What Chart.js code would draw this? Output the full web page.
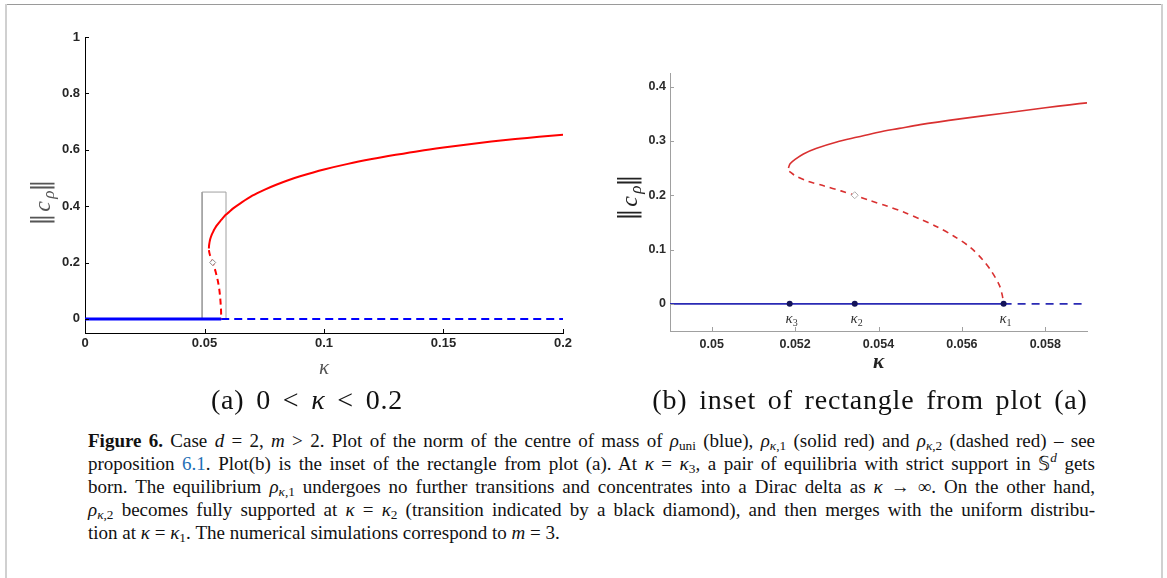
<!DOCTYPE html>
<html>
<head>
<meta charset="utf-8">
<script src="https://cdn.jsdelivr.net/npm/chart.js@4.4.0/dist/chart.umd.min.js"></script>
<style>
  html, body { margin: 0; padding: 0; background: #fff; }
  body { width: 1167px; height: 578px; position: relative; overflow: hidden; }
  .frame { position: absolute; }
  #fTop { left: 5px; top: 4px; width: 1158px; height: 1px; background: #9a9a9a; }
  #fLeft { left: 5px; top: 4px; width: 2px; height: 574px; background: #d0d0d0; }
  #fRight { left: 1161px; top: 4px; width: 2px; height: 574px; background: #d0d0d0; }
  canvas { position: absolute; }
  #plotA { left: 0; top: 0; }
  #plotB { left: 600px; top: 40px; }
  .subcap { position: absolute; font-family: "Liberation Serif", serif; font-size: 28px;
            letter-spacing: 0.8px; word-spacing: 4px;
            line-height: 30px; text-align: center; color: #111; }
  #capA { left: 107px; top: 385px; width: 400px; }
  #capB { left: 620px; top: 385px; width: 500px; }
  #caption { position: absolute; left: 88px; top: 429px; width: 1007px;
             font-family: "Liberation Serif", serif; font-size: 19px; line-height: 23px; color: #111; }
  #caption div { text-align: justify; text-align-last: justify; }
  #caption div.last { text-align-last: left; }
  #caption sub, #caption sup { font-size: 0.7em; line-height: 0; }
  #caption sub { vertical-align: -0.25em; }
  #caption sup { vertical-align: 0.6em; }
  .link { color: #1f6fb6; }
</style>
</head>
<body>
<div class="frame" id="fTop"></div>
<div class="frame" id="fLeft"></div>
<div class="frame" id="fRight"></div>
<canvas id="plotA" width="600" height="400"></canvas>
<canvas id="plotB" width="567" height="340"></canvas>
<div class="subcap" id="capA">(a) 0 &lt; <i>κ</i> &lt; 0.2</div>
<div class="subcap" id="capB">(b) inset of rectangle from plot (a)</div>
<div id="caption">
  <div><b>Figure 6.</b> Case <i>d</i> = 2, <i>m</i> &gt; 2. Plot of the norm of the centre of mass of <i>ρ</i><sub>uni</sub> (blue), <i>ρ</i><sub><i>κ</i>,1</sub> (solid red) and <i>ρ</i><sub><i>κ</i>,2</sub> (dashed red) – see</div>
  <div>proposition <span class="link">6.1</span>. Plot(b) is the inset of the rectangle from plot (a). At <i>κ</i> = <i>κ</i><sub>3</sub>, a pair of equilibria with strict support in 𝕊<sup><i>d</i></sup> gets</div>
  <div>born. The equilibrium <i>ρ</i><sub><i>κ</i>,1</sub> undergoes no further transitions and concentrates into a Dirac delta as <i>κ</i> → ∞. On the other hand,</div>
  <div><i>ρ</i><sub><i>κ</i>,2</sub> becomes fully supported at <i>κ</i> = <i>κ</i><sub>2</sub> (transition indicated by a black diamond), and then merges with the uniform distribu-</div>
  <div class="last">tion at <i>κ</i> = <i>κ</i><sub>1</sub>. The numerical simulations correspond to <i>m</i> = 3.</div>
</div>
<script>
// tick positions
const kappaTicksA = [0, 0.05, 0.1, 0.15, 0.2];
const normTicksA = [0, 0.2, 0.4, 0.6, 0.8, 1];
const kappaTicksB = [0.05, 0.052, 0.054, 0.056, 0.058];
const normTicksB = [0, 0.1, 0.2, 0.3, 0.4];

// rho_{kappa,1}: solid branch, from the fold at kappa_3 outwards
const branch1K = [0.05184, 0.05188, 0.0520, 0.0522, 0.0525, 0.0530, 0.0535, 0.0540, 0.0545, 0.0550,
                  0.0560, 0.0570, 0.0580, 0.0590, 0.060, 0.062, 0.065, 0.070, 0.075, 0.080,
                  0.085, 0.090, 0.100, 0.110, 0.120, 0.130, 0.140, 0.150, 0.160, 0.170,
                  0.180, 0.190, 0.200];
const branch1C = [0.250, 0.258, 0.266, 0.276, 0.286, 0.298, 0.307, 0.316, 0.323, 0.330,
                  0.341, 0.351, 0.361, 0.370, 0.377, 0.392, 0.410, 0.437, 0.458, 0.476,
                  0.492, 0.506, 0.530, 0.550, 0.567, 0.582, 0.596, 0.608, 0.619, 0.629,
                  0.638, 0.646, 0.653];

// rho_{kappa,2}: dashed branch, from the fold down to kappa_1
const branch2K = [0.05186, 0.0520, 0.0523, 0.0527, 0.0531, 0.05343, 0.0538, 0.0542, 0.0546, 0.0550,
                  0.0554, 0.0558, 0.0562, 0.0565, 0.0567, 0.0569, 0.05697, 0.0570];
const branch2C = [0.244, 0.236, 0.226, 0.217, 0.208, 0.200, 0.190, 0.180, 0.169, 0.156,
                  0.142, 0.125, 0.104, 0.081, 0.061, 0.034, 0.015, 0.0];

// uniform state, stable up to kappa_1
const uniStableK = [0, 0.057];
const uniStableC = [0, 0];
const uniUnstableK = [0.057, 0.2];
const uniUnstableC = [0, 0];

// kappa_3, kappa_2, kappa_1
const transitionK = [0.05187, 0.05343, 0.0570];
const transitionC = [0, 0, 0];
const transitionNames = ['3', '2', '1'];

// full support transition (diamond)
const diamondK = [0.05343];
const diamondC = [0.2];

// window shown in plot (b)
const boxK = [0.049, 0.059, 0.059, 0.049, 0.049];
const boxC = [0, 0, 0.45, 0.45, 0];

function pts(xs, ys) {
	return xs.map((x, i) => ({ x: x, y: ys[i] }));
}

function curve(xs, ys, color, width, dash, tension) {
	return {
		data: pts(xs, ys),
		showLine: true,
		borderColor: color,
		borderWidth: width,
		borderDash: dash || [],
		pointRadius: 0,
		pointHoverRadius: 0,
		tension: tension || 0,
		fill: false
	};
}

function drawNorm(ctx, cx, cy, color, size) {
	// ||c_rho|| written sideways, centred on (cx, cy)
	ctx.save();
	ctx.translate(cx, cy);
	ctx.rotate(-Math.PI / 2);
	ctx.fillStyle = color;
	ctx.textBaseline = 'middle';
	const bar = size + 'px "DejaVu Serif", serif';
	const it = 'italic ' + size + 'px "Liberation Serif", serif';
	const sub = 'italic ' + Math.round(size * 0.7) + 'px "Liberation Serif", serif';
	const parts = [[bar, '‖', 0], [it, 'c', size * 0.08], [sub, 'ρ', size * 0.3], [bar, '‖', 0]];
	let w = 0;
	parts.forEach(p => { ctx.font = p[0]; w += ctx.measureText(p[1]).width + 1; });
	let x = -w / 2;
	parts.forEach(p => {
		ctx.font = p[0];
		ctx.fillText(p[1], x, p[2]);
		x += ctx.measureText(p[1]).width + 1;
	});
	ctx.restore();
}

function decoPlugin(cfg) {
	return {
		id: 'deco',
		afterDraw(chart) {
			const ctx = chart.ctx, a = chart.chartArea;
			const xs = chart.scales.x, ys = chart.scales.y;
			ctx.save();
			// ticks point into the plot
			ctx.strokeStyle = cfg.axisColor;
			ctx.lineWidth = 1;
			ctx.beginPath();
			xs.ticks.forEach(t => {
				const px = Math.round(xs.getPixelForValue(t.value)) + 0.5;
				ctx.moveTo(px, a.bottom);
				ctx.lineTo(px, a.bottom - 4);
			});
			ys.ticks.forEach(t => {
				const py = Math.round(ys.getPixelForValue(t.value)) + 0.5;
				ctx.moveTo(a.left, py);
				ctx.lineTo(a.left + 4, py);
			});
			ctx.stroke();

			// kappa axis title
			ctx.fillStyle = cfg.titleColor;
			ctx.font = 'italic ' + cfg.kappaWeight + ' 21px "Liberation Serif", serif';
			ctx.textAlign = 'center';
			ctx.textBaseline = 'middle';
			ctx.fillText('κ', (a.left + a.right) / 2, a.bottom + cfg.kappaOffset);
			drawNorm(ctx, a.left - cfg.normOffset, cfg.normY, cfg.titleColor, 24);

			if (cfg.markNames) {
				const y0 = ys.getPixelForValue(0);
				transitionK.forEach((k, i) => {
					const px = xs.getPixelForValue(k);
					ctx.fillStyle = '#333';
					ctx.textAlign = 'right';
					ctx.textBaseline = 'alphabetic';
					ctx.font = 'italic 15px "Liberation Serif", serif';
					ctx.fillText('κ', px + 3, y0 + 19);
					ctx.textAlign = 'left';
					ctx.font = '10px "Liberation Serif", serif';
					ctx.fillText(transitionNames[i], px + 3, y0 + 22);
				});
			}
			ctx.restore();
		}
	};
}

function axes(xr, yr, xTicks, yTicks, color, labelColor, fontSize, xPad, yPad) {
	const font = { family: '"Liberation Sans", Arial, sans-serif', size: fontSize, weight: 'bold' };
	return {
		x: {
			type: 'linear', min: xr[0], max: xr[1],
			afterBuildTicks: s => { s.ticks = xTicks.map(v => ({ value: v })); },
			afterFit: s => { s.height = 40; },
			grid: { display: true, drawOnChartArea: false, drawTicks: false },
			border: { display: true, color: color, width: 1 },
			ticks: { color: labelColor, font: font, padding: xPad, maxRotation: 0, autoSkip: false,
			         callback: v => String(v) }
		},
		y: {
			type: 'linear', min: yr[0], max: yr[1],
			afterBuildTicks: s => { s.ticks = yTicks.map(v => ({ value: v })); },
			afterFit: s => { s.width = 45; },
			grid: { display: true, drawOnChartArea: false, drawTicks: false },
			border: { display: true, color: color, width: 1 },
			ticks: { color: labelColor, font: font, padding: yPad, autoSkip: false,
			         callback: v => String(v) }
		}
	};
}

const common = {
	responsive: false,
	animation: false,
	events: [],
	plugins: { legend: { display: false }, tooltip: { enabled: false } }
};

// (a) 0 < kappa < 0.2
new Chart(document.getElementById('plotA').getContext('2d'), {
	type: 'scatter',
	data: {
		datasets: [
			{ data: pts(diamondK, diamondC), pointStyle: 'rectRot', pointRadius: 3,
			  borderColor: '#8a8a8a', backgroundColor: '#ffffff', borderWidth: 1 },
			curve(branch1K, branch1C, '#ff0000', 2, [], 0.3),
			curve(branch2K, branch2C, '#ff0000', 2, [6, 4], 0.3),
			curve(uniStableK, uniStableC, '#0000ff', 3),
			curve(uniUnstableK, uniUnstableC, '#0000ff', 2, [8, 5]),
			curve(boxK, boxC, '#a0a0a0', 1)
		]
	},
	options: Object.assign({}, common, {
		layout: { padding: { left: 40, top: 37, right: 37, bottom: 27 } },
		scales: axes([0, 0.2], [-0.05, 1], kappaTicksA, normTicksA, '#000', '#262626', 13, 3, 5)
	}),
	plugins: [decoPlugin({ axisColor: '#000', titleColor: '#555', kappaWeight: 'normal',
	                       kappaOffset: 35, normOffset: 43, normY: 196, markNames: false })]
});

// (b) inset
new Chart(document.getElementById('plotB').getContext('2d'), {
	type: 'scatter',
	data: {
		datasets: [
			{ data: pts(transitionK, transitionC), pointStyle: 'circle', pointRadius: 3,
			  borderColor: '#14145a', backgroundColor: '#14145a', borderWidth: 0 },
			{ data: pts(diamondK, diamondC), pointStyle: 'rectRot', pointRadius: 3.5,
			  borderColor: '#b0b0b0', backgroundColor: '#ffffff', borderWidth: 1 },
			curve(branch1K, branch1C, '#d93030', 1.6, [], 0.3),
			curve(branch2K, branch2C, '#d93030', 1.6, [6, 5], 0.3),
			curve(uniStableK, uniStableC, '#2a2ab4', 1.6),
			curve(uniUnstableK, uniUnstableC, '#2a2ab4', 1.6, [8, 6])
		]
	},
	options: Object.assign({}, common, {
		layout: { padding: { left: 25, top: 33, right: 80, bottom: 9 } },
		scales: axes([0.049, 0.059], [-0.05, 0.425], kappaTicksB, normTicksB, '#a0a0a0', '#2a2a2a', 12.5, 6, 4)
	}),
	plugins: [decoPlugin({ axisColor: '#a0a0a0', titleColor: '#222', kappaWeight: 'bold',
	                       kappaOffset: 32, normOffset: 41, normY: 151, markNames: true })]
});
</script>
</body>
</html>
